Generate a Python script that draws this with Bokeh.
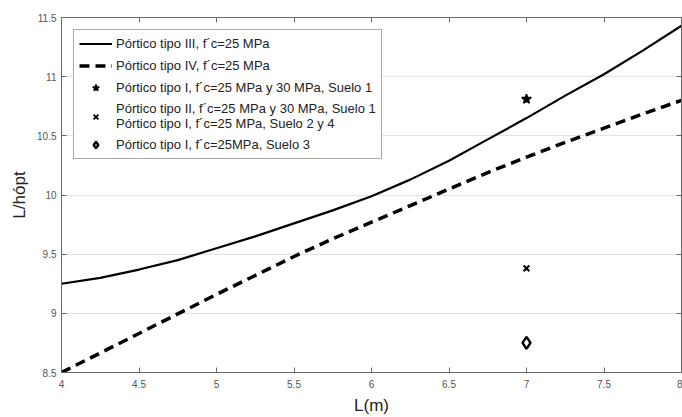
from bokeh.plotting import figure
from bokeh.models import Legend, LegendItem, LinearAxis, Range1d, FixedTicker, CustomJSTickFormatter
from bokeh.embed import file_html
from bokeh.resources import INLINE

# Data
L = [4.0, 4.25, 4.5, 4.75, 5.0, 5.25, 5.5, 5.75, 6.0, 6.25, 6.5, 6.75, 7.0, 7.25, 7.5, 7.75, 8.0]
tipo3 = [9.25, 9.30, 9.37, 9.45, 9.55, 9.65, 9.76, 9.87, 9.99, 10.13, 10.29, 10.47, 10.65, 10.84, 11.02, 11.22, 11.43]
tipo4 = [8.50, 8.665, 8.83, 8.995, 9.16, 9.32, 9.48, 9.63, 9.77, 9.91, 10.05, 10.19, 10.32, 10.445, 10.565, 10.685, 10.80]
pt_star_x = [7.0]
pt_star_y = [10.81]
pt_x_x = [7.0]
pt_x_y = [9.38]
pt_d_x = [7.0]
pt_d_y = [8.75]

x_ticks = [4, 4.5, 5, 5.5, 6, 6.5, 7, 7.5, 8]
y_ticks = [8.5, 9, 9.5, 10, 10.5, 11, 11.5]

labels = [
    "Pórtico tipo III, f´c=25 MPa",
    "Pórtico tipo IV, f´c=25 MPa",
    "Pórtico tipo I, f´c=25 MPa y 30 MPa, Suelo 1",
    "Pórtico tipo II, f´c=25 MPa y 30 MPa, Suelo 1\nPórtico tipo I, f´c=25 MPa, Suelo 2 y 4",
    "Pórtico tipo I, f´c=25MPa, Suelo 3",
]

FONT = "Liberation Sans"
AXC = "#6a6a6a"

p = figure(width=682, height=417, output_backend="svg", toolbar_location=None,
           x_range=Range1d(4, 8), y_range=Range1d(8.5, 11.5),
           min_border_left=61, min_border_right=1, min_border_top=17, min_border_bottom=45,
           background_fill_color="white", border_fill_color="white")
p.outline_line_color = AXC
p.outline_line_width = 1

r1 = p.line(L, tipo3, line_color="black", line_width=2.2)
r2 = p.line(L, tipo4, line_color="black", line_width=3.5, line_dash="10 6")
r3 = p.scatter(pt_star_x, pt_star_y, marker="star", size=10, fill_color="black", line_color="black", line_width=1.5)
r4 = p.scatter(pt_x_x, pt_x_y, marker="x", size=8, line_color="black", line_width=2)
r5 = p.scatter(pt_d_x, pt_d_y, marker="diamond", size=12, fill_color="white", line_color="black", line_width=2.5)

for ax in (p.xaxis[0], p.yaxis[0]):
    ax.major_tick_in = 5
    ax.major_tick_out = 0
    ax.minor_tick_in = 0
    ax.minor_tick_out = 0
    ax.axis_line_color = AXC
    ax.major_tick_line_color = AXC
    ax.major_label_text_font = FONT
    ax.major_label_text_font_size = "10px"
    ax.major_label_text_color = "#555555"
    ax.axis_label_text_font = FONT
    ax.axis_label_text_font_size = "17px"
    ax.axis_label_text_font_style = "normal"
    ax.axis_label_text_color = "#222222"

p.xaxis[0].ticker = FixedTicker(ticks=x_ticks)
p.yaxis[0].ticker = FixedTicker(ticks=y_ticks)
p.xaxis[0].axis_label = "L(m)"
p.yaxis[0].axis_label = "L/hópt"
p.xaxis[0].major_label_standoff = 7
p.xaxis[0].axis_label_standoff = 5
p.yaxis[0].major_label_standoff = 5
p.yaxis[0].axis_label_standoff = 5

blank = CustomJSTickFormatter(code="return ''")
top = LinearAxis(ticker=FixedTicker(ticks=x_ticks), formatter=blank,
                 major_tick_in=5, major_tick_out=0, minor_tick_in=0, minor_tick_out=0,
                 major_label_standoff=0,
                 axis_line_color=AXC, major_tick_line_color=AXC)
right = LinearAxis(ticker=FixedTicker(ticks=y_ticks), formatter=blank,
                   major_tick_in=5, major_tick_out=0, minor_tick_in=0, minor_tick_out=0,
                   major_label_standoff=0,
                   axis_line_color=AXC, major_tick_line_color=AXC)
p.add_layout(top, "above")
p.add_layout(right, "right")

p.xgrid.visible = False
p.ygrid.ticker = FixedTicker(ticks=y_ticks)
p.ygrid.grid_line_color = "#e2e2e2"
p.ygrid.grid_line_width = 1

legend = Legend(items=[
    LegendItem(label=labels[0], renderers=[r1]),
    LegendItem(label=labels[1], renderers=[r2]),
    LegendItem(label=labels[2], renderers=[r3]),
    LegendItem(label=labels[3], renderers=[r4]),
    LegendItem(label=labels[4], renderers=[r5]),
], location="top_left")
legend.margin = 12
legend.padding = 5
legend.spacing = 5
legend.label_text_font = FONT
legend.label_text_font_size = "13px"
legend.label_text_line_height = 1.4
legend.label_text_color = "#222222"
legend.glyph_width = 33
legend.glyph_height = 17
legend.label_height = 17
legend.label_standoff = 4
legend.border_line_color = "#555555"
legend.border_line_width = 1
legend.background_fill_alpha = 1
p.add_layout(legend, "center")

open("out.html", "w").write(file_html(p, INLINE))
